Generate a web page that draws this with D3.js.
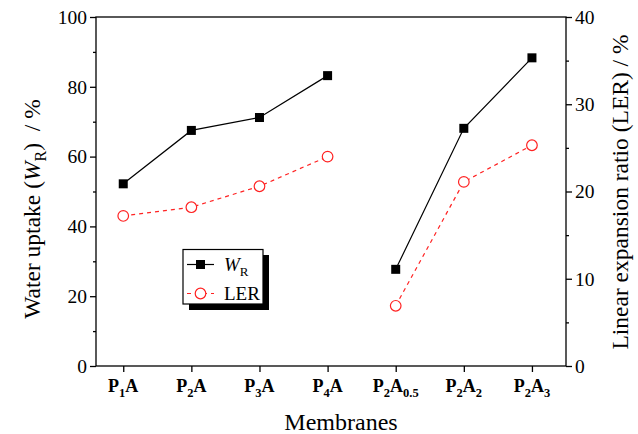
<!DOCTYPE html>
<html><head><meta charset="utf-8">
<script src="https://cdn.jsdelivr.net/npm/d3@7"></script>
<style>body{margin:0;background:#fff}svg{display:block}</style>
</head><body>
<script>
const categories = ["P1A","P2A","P3A","P4A","P2A0.5","P2A2","P2A3"];
// label parts: [text, isSubscript]
const categoryLabels = [
  [["P",0],["1",1],["A",0]],
  [["P",0],["2",1],["A",0]],
  [["P",0],["3",1],["A",0]],
  [["P",0],["4",1],["A",0]],
  [["P",0],["2",1],["A",0],["0.5",1]],
  [["P",0],["2",1],["A",0],["2",1]],
  [["P",0],["2",1],["A",0],["3",1]]
];
const groups = [[0,1,2,3],[4,5,6]];
const waterUptake = [52.2, 67.5, 71.2, 83.2, 27.7, 68.1, 88.3];
const ler = [17.2, 18.2, 20.6, 24.0, 6.9, 21.1, 25.3];
const leftTicks = [0,20,40,60,80,100];
const leftMinor = [10,30,50,70,90];
const rightTicks = [0,10,20,30,40];
const rightMinor = [5,15,25,35];

const W = 638, H = 434;
const L = 96, R = 566, T = 17, B = 366;
const FONT = "Liberation Serif";
const svg = d3.select("body").append("svg").attr("width", W).attr("height", H)
  .attr("font-family", FONT);

const x = d3.scaleLinear().domain([0.6, 7.5]).range([L, R]);
const yL = d3.scaleLinear().domain([0, 100]).range([B, T]);
const yR = d3.scaleLinear().domain([0, 40]).range([B, T]);

// frame
svg.append("rect").attr("x", L).attr("y", T).attr("width", R - L).attr("height", B - T)
  .attr("fill", "none").attr("stroke", "#000").attr("stroke-width", 1.3);

function styleAxis(g) {
  g.attr("font-family", FONT);
  g.select(".domain").remove();
  g.selectAll(".tick line").attr("stroke", "#000").attr("stroke-width", 1.3);
  g.selectAll(".tick text").attr("font-size", 19.5).attr("fill", "#000");
}

// left axis
svg.append("g").attr("transform", `translate(${L},0)`)
  .call(d3.axisLeft(yL).tickValues(leftTicks).tickSize(6).tickPadding(3))
  .call(styleAxis);
svg.append("g").attr("transform", `translate(${L},0)`)
  .call(d3.axisLeft(yL).tickValues(leftMinor).tickSize(3).tickFormat(""))
  .call(styleAxis);
// right axis
svg.append("g").attr("transform", `translate(${R},0)`)
  .call(d3.axisRight(yR).tickValues(rightTicks).tickSize(6).tickPadding(3))
  .call(styleAxis);
svg.append("g").attr("transform", `translate(${R},0)`)
  .call(d3.axisRight(yR).tickValues(rightMinor).tickSize(3).tickFormat(""))
  .call(styleAxis);
// bottom axis
svg.append("g").attr("transform", `translate(0,${B})`)
  .call(d3.axisBottom(x).tickValues(d3.range(1, categories.length + 1)).tickSize(6).tickFormat(""))
  .call(styleAxis);

// x tick labels with subscripts
categoryLabels.forEach((parts, i) => {
  const t = svg.append("text").attr("x", x(i + 1)).attr("y", 392)
    .attr("text-anchor", "middle").attr("font-size", 18).attr("font-weight", "bold");
  parts.forEach(([s, sub], j) => {
    const ts = t.append("tspan").text(s);
    if (sub) ts.attr("font-size", 12.5).attr("dy", 5);
    else if (j > 0 && parts[j - 1][1]) ts.attr("dy", -5);
  });
});

// lines
const lineW = d3.line().x(i => x(i + 1)).y(i => yL(waterUptake[i]));
const lineL = d3.line().x(i => x(i + 1)).y(i => yR(ler[i]));
groups.forEach(g => {
  svg.append("path").attr("d", lineW(g)).attr("fill", "none").attr("stroke", "#000").attr("stroke-width", 1.2);
  svg.append("path").attr("d", lineL(g)).attr("fill", "none").attr("stroke", "#f22").attr("stroke-width", 1.2)
    .attr("stroke-dasharray", "4,4");
});
// markers
svg.selectAll(".sq").data(waterUptake).join("rect")
  .attr("x", (d, i) => x(i + 1) - 4.5).attr("y", d => yL(d) - 4.5)
  .attr("width", 9).attr("height", 9).attr("fill", "#000");
svg.selectAll(".ci").data(ler).join("circle")
  .attr("cx", (d, i) => x(i + 1)).attr("cy", d => yR(d)).attr("r", 5.3)
  .attr("fill", "#fff").attr("stroke", "#f22").attr("stroke-width", 1.2);

// legend
const lg = svg.append("g");
lg.append("rect").attr("x", 189).attr("y", 255).attr("width", 80).attr("height", 55).attr("fill", "#000");
lg.append("rect").attr("x", 183).attr("y", 249.5).attr("width", 80).attr("height", 54.5)
  .attr("fill", "#fff").attr("stroke", "#000").attr("stroke-width", 1.2);
lg.append("line").attr("x1", 187).attr("x2", 214).attr("y1", 264.5).attr("y2", 264.5).attr("stroke", "#000").attr("stroke-width", 1.2);
lg.append("rect").attr("x", 196).attr("y", 260).attr("width", 9).attr("height", 9).attr("fill", "#000");
lg.append("line").attr("x1", 187).attr("x2", 214).attr("y1", 293.5).attr("y2", 293.5).attr("stroke", "#f22").attr("stroke-width", 1.2).attr("stroke-dasharray", "4,4");
lg.append("circle").attr("cx", 200.5).attr("cy", 293.5).attr("r", 5.3).attr("fill", "#fff").attr("stroke", "#f22").attr("stroke-width", 1.2);
const t1 = lg.append("text").attr("x", 224).attr("y", 271).attr("font-size", 19);
t1.append("tspan").text("W").attr("font-style", "italic");
t1.append("tspan").text("R").attr("font-size", 13).attr("dy", 5);
lg.append("text").attr("x", 224).attr("y", 300).attr("font-size", 19).text("LER");

// axis titles
svg.append("text").attr("x", 341).attr("y", 430).attr("text-anchor", "middle")
  .attr("font-size", 24).text("Membranes");
const ylt = svg.append("text").attr("transform", `translate(40,209) rotate(-90)`)
  .attr("text-anchor", "middle").attr("font-size", 23.5);
ylt.append("tspan").text("Water uptake (");
ylt.append("tspan").text("W").attr("font-style", "italic");
ylt.append("tspan").text("R").attr("font-size", 16).attr("dy", 6);
ylt.append("tspan").text(")\u00a0\u00a0/\u00a0%").attr("dy", -6);
svg.append("text").attr("transform", `translate(628,192) rotate(-90)`)
  .attr("text-anchor", "middle").attr("font-size", 23.5).text("Linear expansion ratio (LER) / %");
</script>
</body></html>
